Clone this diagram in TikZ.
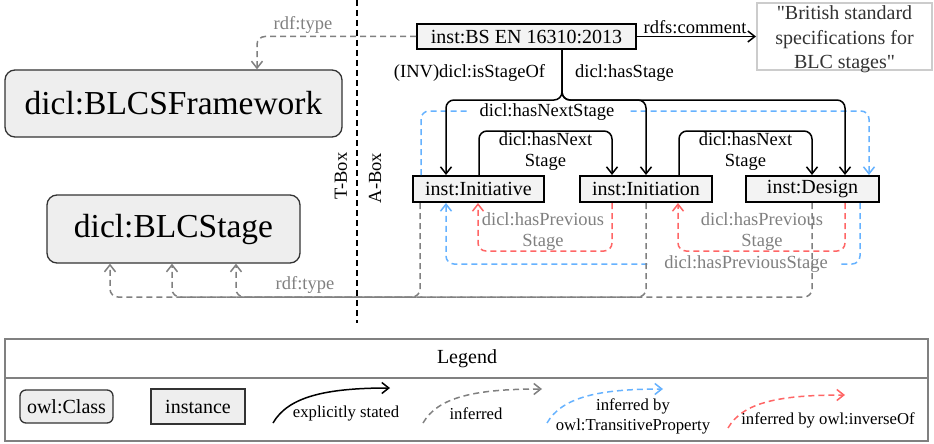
\documentclass[tikz,border=0pt]{standalone}
\usepackage{fontspec}
\setmainfont{Liberation Serif}[Ligatures=TeXOff]
\usetikzlibrary{arrows.meta,calc}
\definecolor{infgray}{HTML}{808080}
\definecolor{trblue}{HTML}{66B2FF}
\definecolor{invred}{HTML}{FF6666}
\definecolor{clsfill}{HTML}{EEEEEE}
\definecolor{insfill}{HTML}{F3F3F3}
\definecolor{cmborder}{HTML}{CCCCCC}
\definecolor{darkline}{HTML}{333333}
\begin{document}
\begin{tikzpicture}[x=1pt,y=-1pt,
  cls/.style={draw=darkline, line width=1.3pt, fill=clsfill, rounded corners=10pt, inner sep=0pt, font=\fontsize{33.5}{38}\selectfont},
  ins/.style={draw=black, line width=2pt, fill=insfill, inner sep=0pt, font=\fontsize{20}{24}\selectfont},
  lbl/.style={font=\fontsize{18.5}{21}\selectfont, inner sep=1pt, align=center},
  glbl/.style={lbl, text=infgray},
  lsm/.style={font=\fontsize{16.7}{20}\selectfont, inner sep=0pt, align=center},
  openhead/.style={-{Straight Barb[length=7pt,width=11pt]}},
  expl/.style={draw=black, line width=1.5pt, rounded corners=8pt, openhead},
  inf/.style={draw=infgray, line width=1.5pt, dash pattern=on 6pt off 4pt, rounded corners=8pt, openhead},
  trans/.style={inf, draw=trblue},
  inv/.style={inf, draw=invred},
]
\useasboundingbox (0,0) rectangle (934,444);

% T-Box / A-Box separator
\coordinate (sepTop) at (357,0);
\coordinate (sepBot) at (357,323);
\draw[black, line width=1.5pt, dash pattern=on 6pt off 4pt] (sepTop) -- (sepBot);
\node[lbl, rotate=90] (tbox) at (341,176) {T-Box};
\node[lbl, rotate=90] (abox) at (375,178) {A-Box};

% classes
\node[cls, minimum width=337pt, minimum height=67pt] (fw) at (173.5,103.5) {dicl:BLCSFramework};
\node[cls, minimum width=253pt, minimum height=68pt] (st) at (173.5,229) {dicl:BLCStage};

% instances
\node[ins, minimum width=219pt, minimum height=25pt] (bs) at (526.5,36.5) {inst:BS EN 16310:2013};
\node[draw=cmborder, line width=2pt, fill=white, minimum width=175pt, minimum height=67pt, inner sep=0pt] (cm) at (844.5,36.5) {};
\node[inner sep=0pt, text=darkline, font=\fontsize{20}{24.5}\selectfont, align=center, yshift=-3pt] (cmtxt) at (cm.center) {"British standard\\specifications for\\BLC stages"};
\node[ins, minimum width=131pt, minimum height=26pt] (ini) at (478.5,189) {inst:Initiative};
\node[ins, minimum width=132pt, minimum height=26pt] (inn) at (646,189) {inst:Initiation};
\node[ins, minimum width=133pt, minimum height=26pt] (des) at (812.5,189) {inst:Design};

% transitive (blue)
\draw[trans] ($(ini.north)+(-57.5,0)$) -- ++(0,-64) -| ($(des.north)+(56.5,0)$);
\node[lbl, fill=white, inner xsep=13pt, inner ysep=0pt] (lnext) at (547,112) {dicl:hasNextStage};
\draw[trans] ($(des.south)+(47.5,0)$) -- ++(0,61) -| ($(ini.south)+(-32.5,0)$);
\node[glbl, fill=white, inner xsep=13pt, inner ysep=0pt] (lprev) at (746,264) {dicl:hasPreviousStage};

% inverse (red)
\draw[inv] ($(inn.south)+(-34,0)$) -- ++(0,48) -| ($(ini.south)+(-0.5,0)$);
\draw[inv] ($(des.south)+(32.5,0)$) -- ++(0,48) -| ($(inn.south)+(32,0)$);
\node[glbl] (lp1) at (543,231.5) {dicl:hasPrevious\\Stage};
\node[glbl] (lp2) at (762,231.5) {dicl:hasPrevious\\Stage};

% explicit tree
\draw[expl] ($(bs.south)+(35.5,0)$) -- ++(0,50) -| ($(ini.north)+(-32.5,0)$);
\draw[expl] ($(bs.south)+(35.5,0)$) -- ++(0,50) -| (inn.north);
\draw[expl] ($(bs.south)+(35.5,0)$) -- ++(0,50) -| ($(des.north)+(32.5,0)$);
\node[lbl] (linv) at (469.5,73) {(INV)dicl:isStageOf};
\node[lbl] (lhs) at (624.5,73) {dicl:hasStage};

% hasNext
\draw[expl] ($(ini.north)+(0.5,0)$) -- ++(0,-44) -| ($(inn.north)+(-34,0)$);
\draw[expl] ($(inn.north)+(33,0)$) -- ++(0,-44) -| ($(des.north)+(-0.5,0)$);
\node[lbl] (ln1) at (545.5,152) {dicl:hasNext\\Stage};
\node[lbl] (ln2) at (745.5,152) {dicl:hasNext\\Stage};

% comment
\draw[expl] (bs.east) -- (cm.west);
\node[lbl] (lcm) at (695,27) {rdfs:comment};

% rdf:type (gray)
\draw[inf] (bs.west) -| ($(fw.north)+(83.5,0)$);
\node[glbl] (lt1) at (303,25) {rdf:type};
\draw[inf] ($(ini.south)+(-58.5,0)$) -- ++(0,94) -| ($(st.south)+(62.5,0)$);
\draw[inf] (inn.south) -- ++(0,94) -| ($(st.south)+(-1.5,0)$);
\draw[inf] ($(des.south)+(-0.5,0)$) -- ++(0,94) -| ($(st.south)+(-63.5,0)$);
\node[glbl] (lt2) at (305,285) {rdf:type};

% legend
\coordinate (legTL) at (5,339);
\coordinate (legBR) at (928,441);
\coordinate (legSL) at (5,378);
\coordinate (legSR) at (928,378);
\draw[infgray, line width=2pt] (legTL) rectangle (legBR);
\draw[infgray, line width=2pt] (legSL) -- (legSR);
\node[font=\fontsize{20}{24}\selectfont, inner sep=0pt] (legt) at (467,359) {Legend};
\node[cls, rounded corners=6pt, font=\fontsize{20}{24}\selectfont, minimum width=93pt, minimum height=33pt] (lcls) at (66.5,406.5) {owl:Class};
\node[ins, draw=darkline, fill=clsfill, minimum width=94pt, minimum height=35pt] (lins) at (198,406.5) {instance};

\coordinate (e1a) at (273,423); \coordinate (e1b) at (390,388);
\draw[expl] (e1a) .. controls (288,397) and (325,388) .. (e1b);
\node[lsm] (le1) at (346,414) {explicitly stated};

\coordinate (e2a) at (423,423); \coordinate (e2b) at (542,389);
\draw[inf] (e2a) .. controls (438,397) and (475,389) .. (e2b);
\node[lsm] (le2) at (476,414) {inferred};

\coordinate (e3a) at (547,423); \coordinate (e3b) at (663,389);
\draw[trans] (e3a) .. controls (562,397) and (599,389) .. (e3b);
\node[lsm] (le3) at (633,416) {inferred by\\owl:TransitiveProperty};

\coordinate (e4a) at (728,428); \coordinate (e4b) at (845,395);
\draw[inv] (e4a) .. controls (743,402) and (780,395) .. (e4b);
\node[lsm] (le4) at (828,420) {inferred by owl:inverseOf};
\end{tikzpicture}
\end{document}
